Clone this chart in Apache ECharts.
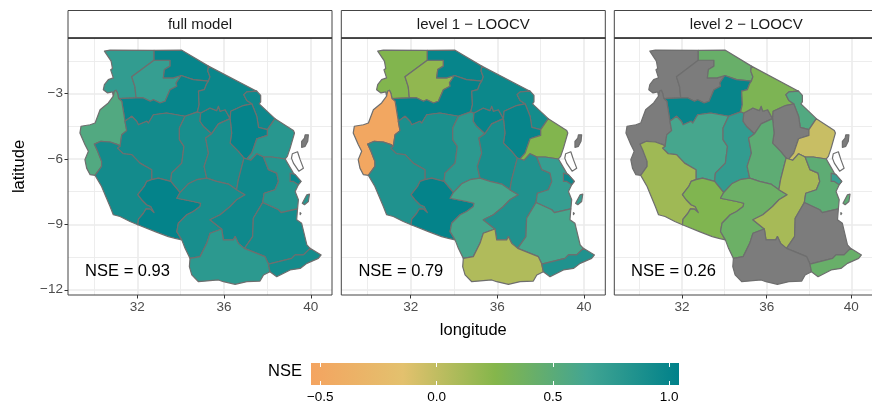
<!DOCTYPE html>
<html><head><meta charset="utf-8">
<script src="https://cdn.jsdelivr.net/npm/echarts@6/dist/echarts.min.js"></script>
<style>html,body{margin:0;padding:0;background:#fff;overflow:hidden}#c{width:872px;height:406px}</style>
</head><body><div id="c"></div>
<script>
const panelTitles = ['full model', 'level 1 \u2212 LOOCV', 'level 2 \u2212 LOOCV'];
const nseLabels = ['NSE = 0.93', 'NSE = 0.79', 'NSE = 0.26'];
const regionNames = ['Kagera','Geita','Mara','Shinyanga','Kigoma','Tabora','Rukwa','Singida','North','Arusha','Kilimanjaro','Manyara','Tanga','Dodoma','Mbeya','Iringa','Morogoro','Pwani','Dar','Lindi','Ruvuma','Mtwara','Pemba','Unguja'];
const fullModel = [0.74,0.72,1.00,1.00,0.55,0.93,0.93,0.90,0.98,0.98,0.96,1.01,0.80,0.90,1.02,0.90,0.95,0.82,0.98,0.92,0.78,0.92,null,'none'];
const level1    = [0.27,0.20,1.00,1.02,-0.50,0.88,0.85,0.78,1.00,0.97,0.92,1.00,0.27,0.90,1.02,0.62,0.85,0.72,0.95,0.62,0.07,0.85,null,'none'];
const level2    = [null,null,0.42,1.00,null,0.62,0.14,0.74,null,0.30,0.55,null,-0.03,0.48,0.28,0.40,0.11,0.48,0.70,null,null,0.42,null,'none'];
const panelValues = [fullModel, level1, level2];
const scaleMin = -0.54, scaleMax = 1.042;
const scaleColors = ['#F4A460','#E3C16E','#85B64B','#42A592','#00818A'];
const naColor = '#7C7C7C';
const lonMajor = [32,36,40], lonMinor = [30,34,38];
const latMajor = [-12,-9,-6,-3], latMinor = [-10.5,-7.5,-4.5,-1.5];
const legendTicks = [-0.5,0,0.5,1];
const kagKig=[[30.89,-3.12],[30.94,-2.89],[31.02,-2.85],[31.09,-3.00],[31.14,-3.23]];
const kagOut=[[30.89,-3.12],[30.85,-2.92],[30.63,-2.97],[30.43,-2.82],[30.48,-2.59],[30.66,-2.36],[30.89,-2.28],[30.77,-1.91],[30.85,-1.85],[30.79,-1.51],[30.48,-1.05],[30.74,-1.01],[32.77,-1.02]];
const kagMar=[[32.77,-1.02],[32.77,-1.47]];
const kagGei=[[32.77,-1.47],[31.74,-2.23],[31.89,-2.69],[31.94,-3.20]];
const kagShi=[[31.94,-3.20],[31.14,-3.23]];
const geiMar=[[32.77,-1.47],[33.51,-1.47],[33.51,-1.74],[33.25,-1.90],[33.20,-2.28],[33.66,-2.28],[34.02,-2.17]];
const geiShi=[[34.02,-2.17],[33.79,-2.51],[33.82,-2.66],[33.51,-2.82],[33.28,-3.35],[33.05,-3.43],[32.74,-3.28],[32.59,-3.35],[32.28,-3.20],[31.94,-3.20]];
const marOut=[[32.77,-1.02],[34.05,-1.01],[35.28,-1.74]];
const marAru=[[35.28,-1.74],[35.25,-1.97],[35.35,-2.23],[35.28,-2.43]];
const marShi=[[35.28,-2.43],[34.58,-2.36],[34.02,-2.17]];
const shiAru=[[35.28,-2.43],[35.20,-2.54],[35.09,-2.82],[34.82,-2.89],[34.85,-3.51],[34.77,-3.84]];
const shiSin=[[34.77,-3.84],[34.20,-4.04]];
const shiTab=[[34.20,-4.04],[33.35,-3.89],[32.74,-3.97],[32.51,-4.35],[32.43,-4.27],[32.05,-4.43],[31.97,-4.27],[31.74,-4.04],[31.43,-4.27]];
const kigShi=[[31.14,-3.23],[31.28,-3.35],[31.43,-4.27]];
const kigTab=[[31.43,-4.27],[31.51,-4.70],[31.28,-4.89],[31.20,-5.42]];
const kigRuk=[[31.20,-5.42],[31.09,-5.34],[30.74,-5.22],[30.32,-5.19],[30.02,-5.32],[30.17,-5.65],[30.35,-6.11],[30.35,-6.34],[30.05,-6.75]];
const kigOut=[[30.05,-6.75],[29.82,-6.72],[29.66,-6.42],[29.58,-6.03],[29.74,-5.65],[29.58,-5.34],[29.35,-4.81],[29.40,-4.50],[29.82,-4.43],[30.05,-4.35],[30.28,-3.74],[30.66,-3.43],[30.89,-3.12]];
const tabSin=[[34.20,-4.04],[33.94,-4.58],[33.94,-5.11],[34.15,-5.42],[34.05,-6.19],[33.58,-6.65],[33.54,-7.03]];
const tabMbe=[[33.54,-7.03],[32.97,-6.88],[32.66,-6.95]];
const tabRuk=[[32.66,-6.95],[32.66,-6.49],[32.12,-6.19],[31.74,-5.80],[31.35,-5.76],[31.08,-5.50],[31.20,-5.42]];
const rukMbe=[[32.66,-6.95],[32.43,-7.03],[32.32,-7.26],[32.02,-7.64],[32.20,-7.87],[32.43,-8.10],[32.62,-8.18],[32.77,-8.46],[32.59,-8.30],[32.40,-8.29],[32.28,-8.49],[32.05,-8.76],[32.02,-9.02]];
const rukOut=[[32.02,-9.02],[31.66,-8.87],[31.20,-8.64],[30.89,-8.56],[30.74,-8.18],[30.51,-7.64],[30.35,-7.26],[30.05,-6.75]];
const sinAru=[[34.77,-3.84],[34.92,-3.89]];
const sinSma=[[34.92,-3.89],[34.89,-4.27],[35.05,-4.50],[35.43,-4.84]];
const sinDod=[[35.43,-4.84],[35.15,-5.04],[35.28,-5.73],[35.08,-6.34],[35.20,-6.88]];
const sinIri=[[35.20,-6.88],[34.74,-6.95],[34.35,-7.14],[33.97,-7.54]];
const sinMbe=[[33.97,-7.54],[33.54,-7.03]];
const smaAru=[[34.92,-3.89],[35.35,-3.66],[35.66,-3.78],[35.74,-3.58],[35.82,-3.81],[36.05,-3.74],[36.28,-4.15]];
const smaDod=[[36.28,-4.15],[35.74,-4.39],[35.43,-4.84]];
const aruOut=[[35.28,-1.74],[37.51,-2.89]];
const kilOut=[[37.51,-2.89],[37.69,-3.08],[37.69,-3.38],[37.62,-3.47],[38.35,-4.15]];
const kilTan=[[38.35,-4.15],[38.00,-4.65]];
const kilMan=[[38.00,-4.65],[37.59,-4.55],[37.51,-4.04],[37.28,-3.47]];
const kilAru=[[37.28,-3.47],[37.05,-3.32],[36.91,-3.05],[37.05,-2.92],[37.51,-2.89]];
const aruMan=[[37.28,-3.47],[36.89,-3.55],[36.31,-3.81],[36.28,-4.15]];
const manTan=[[38.00,-4.65],[38.00,-4.92],[37.51,-5.07],[37.28,-5.73],[37.05,-6.00]];
const manMor=[[37.05,-6.00],[36.92,-5.96]];
const manDod=[[36.92,-5.96],[36.66,-5.65],[36.28,-5.27],[36.35,-4.81],[36.28,-4.15]];
const tanOut=[[38.35,-4.15],[39.20,-4.69],[39.25,-4.81],[39.05,-5.50],[38.92,-5.88],[38.82,-6.00]];
const tanPwa=[[38.82,-6.00],[38.20,-5.91],[37.82,-5.91]];
const tanMor=[[37.82,-5.91],[37.51,-5.76],[37.23,-6.06],[37.05,-6.00]];
const dodMor=[[36.92,-5.96],[36.82,-6.34],[36.66,-6.95],[36.58,-7.41]];
const dodIri=[[36.58,-7.41],[36.20,-7.15],[35.66,-7.03],[35.20,-6.88]];
const mbeIri=[[33.97,-7.54],[33.82,-7.80],[34.58,-7.95],[34.92,-8.03],[34.89,-8.18],[34.58,-8.41],[34.28,-8.56],[33.89,-8.95],[33.82,-9.33],[34.05,-9.71]];
const mbeOut=[[34.05,-9.71],[33.74,-9.64],[33.43,-9.56],[32.82,-9.33],[32.02,-9.02]];
const iriOut=[[34.05,-9.71],[34.20,-10.10],[34.43,-10.56]];
const iriRuv=[[34.43,-10.56],[34.89,-10.48],[35.20,-9.87],[35.35,-9.41],[35.89,-9.21]];
const iriMor=[[35.89,-9.21],[35.35,-8.79],[35.82,-8.56],[36.28,-8.18],[36.58,-7.87],[36.97,-7.64],[36.58,-7.41]];
const morPwa=[[37.82,-5.91],[38.05,-6.49],[38.43,-6.65],[38.51,-7.03],[38.35,-7.41],[37.85,-7.57],[37.78,-8.00]];
const morLin=[[37.78,-8.00],[37.35,-8.72],[37.32,-9.56],[36.94,-10.10]];
const morRuv=[[36.94,-10.10],[36.66,-9.87],[36.51,-9.56],[36.43,-9.71],[35.97,-9.71],[35.89,-9.21]];
const pwaOut=[[38.82,-6.00],[38.97,-6.26],[39.20,-6.65],[39.55,-7.03],[39.43,-7.18],[39.28,-7.49],[39.43,-7.87],[39.39,-8.29]];
const pwaLin=[[39.39,-8.29],[38.63,-8.46],[38.51,-8.33],[37.78,-8.00]];
const linOut=[[39.39,-8.29],[39.35,-8.79],[39.58,-8.95],[39.82,-9.94],[39.97,-10.10]];
const linMtw=[[39.97,-10.10],[39.66,-10.40],[39.28,-10.40],[39.12,-10.56],[38.05,-10.82]];
const linRuv=[[38.05,-10.82],[37.89,-10.48],[36.94,-10.10]];
const ruvOut=[[34.43,-10.56],[34.40,-10.94],[34.51,-11.32],[34.82,-11.63],[35.74,-11.55],[35.97,-11.63],[36.51,-11.75],[37.05,-11.63],[37.66,-11.60],[37.82,-11.32],[38.12,-11.17]];
const ruvMtw=[[38.12,-11.17],[38.05,-10.82]];
const mtwOut=[[39.97,-10.10],[40.48,-10.40],[40.35,-10.56],[39.82,-10.79],[39.51,-11.02],[39.05,-11.09],[38.43,-11.40],[38.12,-11.17]];
const darCity=[[39.05,-6.65],[39.28,-6.72],[39.55,-7.03],[39.43,-7.18],[39.20,-7.03],[39.05,-7.03]];
const mafia=[[39.61,-8.03],[39.82,-7.64],[39.94,-7.61],[39.89,-7.95],[39.71,-8.10]];
const islet=[[39.51,-8.46],[39.55,-8.50],[39.51,-8.55]];
const pemba=[[39.74,-4.89],[39.89,-4.89],[39.86,-5.19],[39.74,-5.42],[39.58,-5.47],[39.58,-5.19],[39.71,-5.04]];
const unguja=[[39.15,-5.76],[39.39,-5.67],[39.51,-6.03],[39.66,-6.42],[39.45,-6.56],[39.20,-6.19],[39.11,-5.96]];
const rev = a => a.slice().reverse();
const join = (...arcs) => [].concat(...arcs);
const regionRings = [
  [join(kagOut,kagMar,kagGei,kagShi,rev(kagKig))],
  [join(geiMar,geiShi,rev(kagGei))],
  [join(marOut,marAru,marShi,rev(geiMar),rev(kagMar))],
  [join(rev(marShi),shiAru,shiSin,shiTab,rev(kigShi),rev(kagShi),rev(geiShi))],
  [join(kagKig,kigShi,kigTab,kigRuk,kigOut)],
  [join(rev(shiTab),tabSin,tabMbe,tabRuk,rev(kigTab))],
  [join(rev(kigRuk),rev(tabRuk),rukMbe,rukOut)],
  [join(sinAru,sinSma,sinDod,sinIri,sinMbe,rev(tabSin),rev(shiSin))],
  [join(smaAru,smaDod,rev(sinSma))],
  [join(aruOut,rev(kilAru),aruMan,rev(smaAru),rev(sinAru),rev(shiAru),rev(marAru))],
  [join(kilOut,kilTan,kilMan,kilAru)],
  [join(rev(kilMan),manTan,manMor,manDod,rev(aruMan))],
  [join(tanOut,tanPwa,tanMor,rev(manTan),rev(kilTan))],
  [join(rev(smaDod),rev(manDod),dodMor,dodIri,rev(sinDod))],
  [join(rev(tabMbe),rev(sinMbe),mbeIri,mbeOut,rev(rukMbe))],
  [join(rev(sinIri),rev(dodIri),rev(iriMor),rev(iriRuv),rev(iriOut),rev(mbeIri))],
  [join(rev(dodMor),rev(manMor),rev(tanMor),morPwa,morLin,morRuv,iriMor)],
  [join(rev(tanPwa),pwaOut,pwaLin,rev(morPwa)),mafia,islet],
  [darCity],
  [join(rev(pwaLin),linOut,linMtw,linRuv,rev(morLin))],
  [join(ruvOut,ruvMtw,linRuv,morRuv,rev(iriRuv))],
  [join(mtwOut,ruvMtw,rev(linMtw))],
  [pemba],
  [unguja]
];
const panelLeft = [68, 341.3, 614.3], panelWidth = 264, panelTop = 38, panelHeight = 257;
const lonRange = [28.8, 40.98], latRange = [-12.24, -0.45];
const borderColor = '#6E6E6E', frameColor = '#444444', gridColor = '#EBEBEB';
const FONT = '"Liberation Sans", Arial, sans-serif';
const fmtLat = v => String(v).replace('-', '\u2212');
const fmtLeg = v => v.toFixed(1).replace('-', '\u2212');
const fillOf = v => {
  if (v === 'none') return '#FFFFFF';
  if (v === null) return naColor;
  return echarts.color.lerp((v - scaleMin) / (scaleMax - scaleMin), scaleColors);
};
const grids = [], xAxes = [], yAxes = [], series = [], graphics = [];
panelLeft.forEach((left, p) => {
  grids.push({left, top: panelTop, width: panelWidth, height: panelHeight, show: false});
  const base = {type:'value', gridIndex:p, min:lonRange[0], max:lonRange[1], axisLine:{show:false}};
  xAxes.push(Object.assign({}, base, {
    axisTick:{show:true, length:3.5, lineStyle:{color:'#333333'}, customValues:lonMajor},
    axisLabel:{show:true, margin:5, color:'#4D4D4D', fontFamily:FONT, fontSize:13.5, customValues:lonMajor},
    splitLine:{show:true, lineStyle:{color:gridColor, width:1.6}, customValues:lonMajor},
    name: p === 1 ? 'longitude' : '', nameLocation:'middle', nameGap:27,
    nameTextStyle:{fontFamily:FONT, fontSize:16.5, color:'#000'}
  }));
  xAxes.push(Object.assign({}, base, {
    axisTick:{show:false, customValues:lonMinor}, axisLabel:{show:false, customValues:lonMinor},
    splitLine:{show:true, lineStyle:{color:gridColor, width:0.9}, customValues:lonMinor}
  }));
  const ybase = {type:'value', gridIndex:p, min:latRange[0], max:latRange[1], axisLine:{show:false}};
  yAxes.push(Object.assign({}, ybase, {
    axisTick:{show:p === 0, length:3.5, lineStyle:{color:'#333333'}, customValues:latMajor},
    axisLabel:{show:p === 0, margin:5, color:'#4D4D4D', fontFamily:FONT, fontSize:13.5, customValues:latMajor, formatter:fmtLat},
    splitLine:{show:true, lineStyle:{color:gridColor, width:1.6}, customValues:latMajor},
    name: p === 0 ? 'latitude' : '', nameLocation:'middle', nameGap:40, nameRotate:90,
    nameTextStyle:{fontFamily:FONT, fontSize:16.5, color:'#000'}
  }));
  yAxes.push(Object.assign({}, ybase, {
    axisTick:{show:false, customValues:latMinor}, axisLabel:{show:false, customValues:latMinor},
    splitLine:{show:true, lineStyle:{color:gridColor, width:0.9}, customValues:latMinor}
  }));
  const vals = panelValues[p];
  series.push({
    type:'custom', xAxisIndex:p*2, yAxisIndex:p*2, clip:false, silent:true, z:3,
    data: regionNames.map((n, i) => ({name:n, value:[i, i]})),
    renderItem(params, api) {
      const i = params.dataIndex;
      return {type:'group', children: regionRings[i].map(ring => ({
        type:'polygon',
        shape:{points: ring.map(c => api.coord(c))},
        style:{fill: fillOf(vals[i]), stroke: borderColor, lineWidth:1.2, lineJoin:'round'}
      }))};
    }
  });
  series.push({
    type:'custom', xAxisIndex:p*2, yAxisIndex:p*2, clip:false, silent:true, z:4,
    data:[{value:[29.59, -11.18]}],
    renderItem(params, api) {
      const c = api.coord([api.value(0), api.value(1)]);
      return {type:'text', style:{text:nseLabels[p], x:c[0], y:c[1], textAlign:'left', textVerticalAlign:'middle',
        fontFamily:FONT, fontSize:16.5, fill:'#000'}};
    }
  });
  graphics.push({type:'rect', z:20, silent:true, shape:{x:left, y:panelTop, width:panelWidth, height:panelHeight},
    style:{fill:'none', stroke:frameColor, lineWidth:1}});
  graphics.push({type:'rect', z:20, silent:true, shape:{x:left, y:10.5, width:panelWidth, height:27.5},
    style:{fill:'#fff', stroke:frameColor, lineWidth:1}});
  graphics.push({type:'line', z:21, silent:true, shape:{x1:left, y1:38, x2:left+panelWidth, y2:38},
    style:{stroke:'#333333', lineWidth:1.6}});
  graphics.push({type:'text', z:22, silent:true, style:{text:panelTitles[p], x:left+panelWidth/2, y:25,
    textAlign:'center', textVerticalAlign:'middle', fontFamily:FONT, fontSize:15, fill:'#1A1A1A'}});
});
const L = 3;
grids.push({left:311, top:363, width:368, height:22, show:false});
const tickWhite = {show:true, inside:true, length:4, lineStyle:{color:'#fff', width:1}, customValues:legendTicks};
xAxes.push({type:'value', gridIndex:L, min:scaleMin, max:scaleMax, z:6, axisLine:{show:false}, splitLine:{show:false},
  axisTick:tickWhite,
  axisLabel:{show:true, margin:5, color:'#000', fontFamily:FONT, fontSize:13.5, customValues:legendTicks, formatter:fmtLeg}});
xAxes.push({type:'value', gridIndex:L, position:'top', min:scaleMin, max:scaleMax, z:6, axisLine:{show:false}, splitLine:{show:false},
  axisTick:tickWhite, axisLabel:{show:false, customValues:legendTicks}});
yAxes.push({type:'value', gridIndex:L, min:0, max:1, show:false});
series.push({
  type:'custom', xAxisIndex:L*2, yAxisIndex:panelLeft.length*2, clip:true, silent:true, z:2,
  data:[{value:[scaleMin, scaleMax]}],
  renderItem(params, api) {
    const a = api.coord([api.value(0), 0]), b = api.coord([api.value(1), 1]);
    return {type:'rect', shape:{x:a[0], y:b[1], width:b[0]-a[0], height:a[1]-b[1]},
      style:{fill:new echarts.graphic.LinearGradient(0,0,1,0, scaleColors.map((color,i)=>({offset:i/(scaleColors.length-1), color})))}};
  }
});
graphics.push({type:'text', z:22, silent:true, style:{text:'NSE', x:302, y:371.5, textAlign:'right', textVerticalAlign:'middle',
  fontFamily:FONT, fontSize:16.5, fill:'#000'}});
const chart = echarts.init(document.getElementById('c'), null, {renderer:'canvas'});
chart.setOption({animation:false, backgroundColor:'#fff', grid:grids, xAxis:xAxes, yAxis:yAxes, series, graphic:graphics});
</script>
</body></html>
